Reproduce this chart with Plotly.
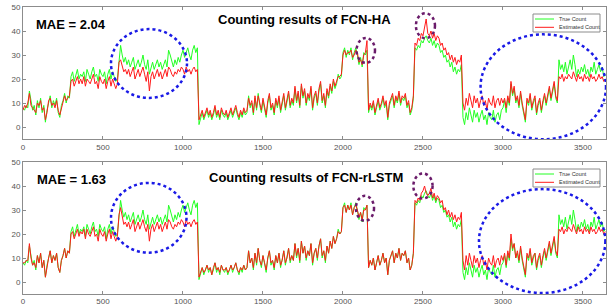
import plotly.graph_objects as go

# frame index (one sample every 10 frames)
frames = list(range(0, 3650, 10))

true_count = [
    # 0-290
    8, 7, 9, 8, 15, 10, 7, 9, 5, 11, 8, 12, 6, 9, 2, 7, 10, 13, 8, 11, 9, 12, 6, 4, 9, 11, 14, 10, 13, 12,
    # 300-590
    21, 23, 19, 22, 24, 20, 22, 21, 23, 19, 24, 22, 20, 23, 25, 21, 22, 19, 24, 22, 21, 23, 18, 22, 24, 20, 23, 21, 19, 20,
    # 600-1090
    28, 34, 30, 27, 29, 26, 28, 25, 27, 29, 24, 26, 28, 25, 27, 30, 26, 24, 28, 22, 25, 27, 24, 26, 28,
    25, 27, 24, 26, 28, 25, 32, 30, 27, 25, 28, 26, 29, 27, 30, 32, 29, 31, 33, 30, 28, 32, 34, 31, 33,
    # 1100-1390
    1, 4, 6, 3, 5, 7, 4, 6, 3, 5, 8, 4, 6, 3, 7, 5, 4, 6, 3, 5, 7, 4, 6, 8, 5, 3, 6, 4, 7, 5,
    # 1400-1690
    6, 13, 8, 10, 5, 12, 7, 14, 9, 6, 11, 8, 4, 10, 13, 7, 9, 5, 11, 8, 12, 6, 9, 13, 7, 10, 14, 8, 11, 9,
    # 1700-1940
    16, 10, 14, 8, 17, 12, 15, 9, 13, 11, 16, 7, 12, 14, 9, 15, 18, 10, 13, 8, 15, 12, 17, 14, 19,
    # 1950-1990
    16, 18, 22, 20, 21,
    # 2000-2150
    31, 33, 29, 32, 30, 33, 28, 31, 33, 30, 26, 29, 25, 31, 30, 32,
    # 2160-2440
    6, 9, 7, 10, 5, 8, 11, 7, 9, 12, 8, 10, 3, 9, 11, 13, 8, 12, 10, 14, 9, 12, 11, 13, 8, 10, 5, 7, 12,
    # 2450-2600
    33, 32, 34, 33, 36, 35, 37, 38, 36, 35, 37, 34, 36, 33, 35, 34,
    # 2610-2740
    31, 32, 29, 30, 27, 28, 25, 27, 23, 25, 22, 24, 23, 26,
    # 2750-2990
    4, 1, 6, 3, 8, 5, 2, 7, 4, 6, 2, 5, 7, 3, 5, 1, 6, 4, 3, 7, 2, 5, 6, 3, 7,
    # 3000-3340
    8, 11, 6, 12, 9, 18, 13, 16, 10, 12, 8, 14, 9, 6, 2, 11, 9, 13, 7, 10, 12, 5, 9, 11, 6, 10, 13, 9,
    12, 16, 11, 14, 18, 12, 10,
    # 3350-3640
    28, 24, 26, 23, 27, 22, 25, 28, 24, 30, 26, 21, 24, 22, 25, 23, 26, 22, 24, 21, 25, 23, 27, 22, 24,
    26, 23, 25, 21, 22,
]

est_ha = [
    7, 9, 8, 10, 14, 9, 8, 7, 6, 10, 9, 11, 7, 8, 3, 6, 11, 12, 9, 10, 8, 11, 7, 5, 8, 10, 13, 11, 12, 13,
    19, 20, 17, 19, 21, 18, 20, 18, 21, 17, 20, 19, 18, 20, 22, 18, 19, 16, 21, 19, 18, 20, 16, 19, 21, 17, 20, 18, 16, 18,
    27, 28, 25, 23, 24, 22, 24, 21, 23, 25, 20, 22, 24, 21, 23, 25, 22, 19, 23, 15, 21, 23, 20, 22, 24,
    21, 23, 20, 22, 24, 21, 25, 24, 22, 21, 23, 22, 24, 23, 25, 24, 22, 25, 23, 24, 22, 24, 25, 23, 24,
    3, 5, 7, 4, 6, 8, 5, 7, 4, 6, 9, 5, 7, 4, 8, 6, 5, 7, 4, 6, 8, 5, 7, 9, 6, 4, 7, 5, 8, 6,
    7, 12, 9, 11, 6, 13, 8, 13, 10, 7, 12, 9, 5, 11, 14, 8, 10, 6, 12, 9, 13, 7, 10, 14, 8, 11, 15, 9, 12, 10,
    17, 11, 15, 9, 18, 13, 16, 10, 14, 12, 17, 8, 13, 15, 10, 16, 19, 11, 14, 9, 16, 13, 18, 15, 20,
    17, 19, 21, 21, 22,
    30, 32, 30, 31, 31, 32, 29, 30, 32, 31, 27, 28, 26, 30, 31, 36,
    7, 10, 8, 11, 6, 9, 12, 8, 10, 13, 9, 11, 4, 10, 12, 14, 9, 13, 11, 15, 10, 13, 12, 14, 9, 11, 6, 8, 13,
    35, 34, 37, 36, 39, 38, 41, 45, 39, 38, 40, 37, 39, 36, 38, 37,
    34, 35, 32, 33, 30, 31, 28, 30, 27, 29, 26, 28, 27, 30,
    10, 7, 12, 9, 14, 11, 8, 13, 10, 12, 8, 11, 13, 9, 11, 7, 12, 10, 9, 13, 8, 11, 12, 9, 12,
    10, 12, 8, 13, 10, 19, 14, 17, 11, 13, 9, 15, 10, 7, 3, 12, 10, 14, 8, 11, 13, 6, 10, 12, 7, 11, 14, 10,
    13, 17, 12, 15, 19, 13, 11,
    21, 20, 22, 19, 21, 20, 22, 21, 20, 23, 21, 19, 22, 20, 21, 19, 22, 20, 21, 19, 22, 20, 21, 19, 20,
    22, 20, 21, 19, 20,
]

est_lstm = [
    8, 8, 9, 9, 16, 10, 7, 8, 6, 11, 8, 12, 6, 9, 2, 7, 10, 13, 8, 11, 9, 12, 6, 4, 9, 11, 14, 10, 13, 12,
    20, 21, 18, 20, 22, 19, 21, 20, 22, 18, 22, 20, 19, 21, 23, 19, 20, 17, 22, 20, 19, 21, 17, 20, 22, 18, 21, 19, 17, 19,
    28, 31, 27, 24, 25, 23, 25, 22, 24, 26, 21, 23, 25, 22, 24, 26, 23, 21, 24, 17, 22, 24, 21, 23, 25,
    22, 24, 21, 23, 25, 22, 26, 25, 23, 22, 24, 23, 25, 24, 26, 25, 23, 26, 24, 25, 23, 25, 26, 24, 25,
    2, 4, 6, 4, 5, 7, 5, 6, 3, 6, 8, 5, 6, 4, 7, 5, 5, 6, 4, 5, 7, 5, 6, 8, 5, 4, 6, 5, 7, 5,
    6, 13, 8, 10, 6, 12, 8, 14, 9, 7, 11, 8, 5, 10, 13, 8, 9, 6, 11, 8, 12, 7, 9, 13, 8, 10, 14, 9, 11, 9,
    16, 11, 14, 9, 17, 12, 15, 10, 13, 11, 16, 8, 12, 14, 10, 15, 18, 11, 13, 9, 15, 12, 17, 14, 19,
    16, 18, 21, 20, 21,
    31, 32, 29, 32, 30, 32, 28, 31, 32, 30, 27, 29, 26, 30, 30, 32,
    6, 9, 7, 10, 5, 8, 11, 7, 9, 12, 8, 10, 3, 9, 11, 13, 8, 12, 10, 14, 9, 12, 11, 13, 8, 10, 5, 7, 12,
    34, 33, 35, 34, 37, 38, 40, 37, 36, 37, 39, 35, 37, 34, 36, 35,
    33, 34, 30, 31, 28, 30, 27, 29, 26, 28, 25, 27, 26, 29,
    9, 5, 11, 7, 12, 9, 6, 11, 8, 10, 6, 9, 11, 7, 9, 5, 10, 8, 7, 11, 6, 9, 10, 7, 11,
    9, 12, 7, 13, 10, 20, 14, 16, 10, 13, 9, 15, 10, 7, 3, 12, 10, 14, 8, 11, 12, 6, 10, 12, 7, 11, 14, 10,
    13, 17, 12, 15, 19, 13, 11,
    22, 21, 23, 20, 22, 21, 23, 22, 21, 24, 22, 20, 23, 21, 22, 20, 23, 21, 22, 20, 23, 21, 22, 20, 21,
    23, 21, 22, 20, 21,
]

panel_titles = ["Counting results of FCN-HA", "Counting results of FCN-rLSTM"]
mae_labels = ["MAE = 2.04", "MAE = 1.63"]
legend_labels = ["True Count", "Estimated Count"]
x_ticks = [0, 500, 1000, 1500, 2000, 2500, 3000, 3500]
y_ticks = [0, 10, 20, 30, 40, 50]

# highlighted regions: (x0, x1, y0, y1, kind)
regions_top = [(550, 1025, 12.1, 40.8, "blue"), (2085, 2200, 26.7, 37.1, "purple"),
               (2456, 2575, 37.0, 47.4, "purple"), (2860, 3644, -5.1, 38.6, "blue")]
regions_bot = [(550, 1022, 12.2, 41.3, "blue"), (2081, 2194, 25.5, 35.9, "purple"),
               (2440, 2560, 34.8, 45.2, "purple"), (2850, 3640, -4.6, 38.7, "blue")]

GREEN = "#22ff22"
RED = "#ff1a1a"
COLORS = {"blue": "#1a1ae6", "purple": "#6a1b6a"}
SANS = "Liberation Sans, Arial, sans-serif"
W, H = 608, 305


def px(xp):
    return xp / W


def py(yp):
    return 1 - yp / H


fig = go.Figure()

panels = [
    ("x", "y", est_ha, regions_top),
    ("x2", "y2", est_lstm, regions_bot),
]
for xa, ya, est, regs in panels:
    fig.add_trace(go.Scatter(x=frames, y=true_count, mode="lines", name=legend_labels[0],
                             line=dict(color=GREEN, width=1), xaxis=xa, yaxis=ya, showlegend=False))
    fig.add_trace(go.Scatter(x=frames, y=est, mode="lines", name=legend_labels[1],
                             line=dict(color=RED, width=1), xaxis=xa, yaxis=ya, showlegend=False))
    for x0, x1, y0, y1, kind in regs:
        fig.add_shape(type="circle", xref=xa, yref=ya, x0=x0, x1=x1, y0=y0, y1=y1,
                      line=dict(color=COLORS[kind], width=2.5, dash="dot"))

axis_common = dict(
    showline=True, linecolor="#8c8c8c", linewidth=1, mirror="ticks",
    ticks="inside", ticklen=3, tickcolor="#8c8c8c",
    showgrid=False, zeroline=False, automargin=False,
    tickfont=dict(family=SANS, size=8, color="#555555"),
)

xdom = [px(23), px(606)]
fig.update_layout(
    template="none",
    width=W, height=H,
    margin=dict(l=0, r=0, t=0, b=0, pad=0),
    paper_bgcolor="white", plot_bgcolor="white",
    showlegend=False,
    xaxis=dict(domain=xdom, range=[0, 3644], tickvals=x_ticks, anchor="y", **axis_common),
    yaxis=dict(domain=[py(139), py(7)], range=[-5, 50], tickvals=y_ticks,
               anchor="x", **axis_common),
    xaxis2=dict(domain=xdom, range=[0, 3644], tickvals=x_ticks, anchor="y2",
                ticklabelstandoff=-1, **axis_common),
    yaxis2=dict(domain=[py(294), py(162)], range=[-5, 50], tickvals=y_ticks,
                anchor="x2", **axis_common),
)

# panel texts and hand-drawn legend boxes
layout_px = [
    dict(title=(304, 20), mae=(71, 24), box=(533, 14, 600, 32), rows=(19, 27.3)),
    dict(title=(306, 177), mae=(71, 179), box=(533, 169, 600, 187), rows=(174, 182.3)),
]
for pos, title, mae in zip(layout_px, panel_titles, mae_labels):
    tx, ty = pos["title"]
    mx, my = pos["mae"]
    fig.add_annotation(x=px(tx), y=py(ty), xref="paper", yref="paper", text="<b>" + title + "</b>",
                       showarrow=False, xanchor="center", yanchor="middle",
                       font=dict(family=SANS, size=13, color="black"))
    fig.add_annotation(x=px(mx), y=py(my), xref="paper", yref="paper", text="<b>" + mae + "</b>",
                       showarrow=False, xanchor="center", yanchor="middle",
                       font=dict(family=SANS, size=13, color="black"))
    bx0, by0, bx1, by1 = pos["box"]
    fig.add_shape(type="rect", xref="paper", yref="paper", x0=px(bx0), x1=px(bx1),
                  y0=py(by1), y1=py(by0), line=dict(color="#8c8c8c", width=1), fillcolor="white")
    for rowy, color, label in zip(pos["rows"], [GREEN, RED], legend_labels):
        fig.add_shape(type="line", xref="paper", yref="paper", x0=px(535), x1=px(554),
                      y0=py(rowy), y1=py(rowy), line=dict(color=color, width=1))
        fig.add_annotation(x=px(556.5), y=py(rowy), xref="paper", yref="paper", text=label,
                           showarrow=False, xanchor="left", yanchor="middle",
                           font=dict(family=SANS, size=5.5, color="#333333"))

fig.write_html(
    "out.html",
    config={"displayModeBar": False, "staticPlot": True},
    post_script="document.body.style.margin='0';document.body.style.padding='0';"
                "document.body.style.overflow='hidden';",
)
